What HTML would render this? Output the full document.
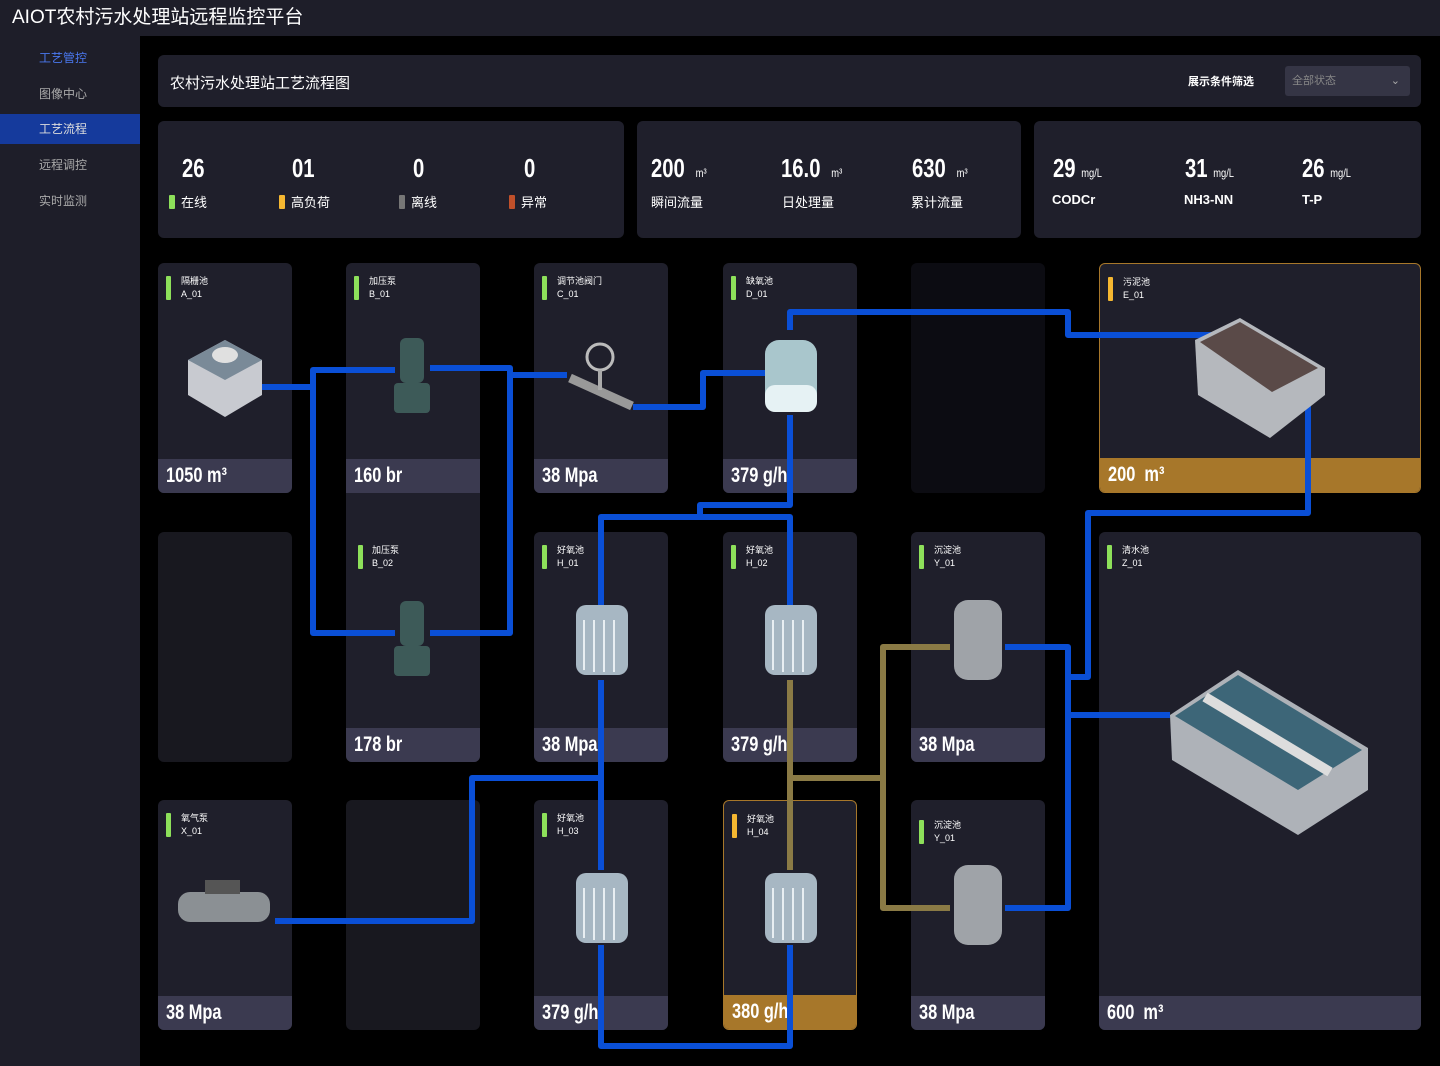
<!DOCTYPE html>
<html><head><meta charset="utf-8"><style>
*{margin:0;padding:0;box-sizing:border-box}
body{width:1440px;height:1066px;background:#000;font-family:"Liberation Sans","Noto Sans CJK SC",sans-serif;color:#fff;position:relative;overflow:hidden}
.hdr{position:absolute;left:0;top:0;width:1440px;height:36px;background:#1e1e29;font-size:19px;line-height:36px;padding-left:12px}
.side{position:absolute;left:0;top:36px;width:140px;height:1030px;background:#1e1e29}
.nav{position:absolute;left:0;width:140px;height:30px;line-height:30px;padding-left:39px;font-size:12px;color:#aaa}
.panel{position:absolute;background:#1f1f2b;border-radius:6px}
.n{font-weight:bold;font-size:26px;position:absolute;transform:scaleX(.78);transform-origin:left;white-space:nowrap}
.u{font-size:12px;font-weight:normal}
.lab{position:absolute;font-size:13px}
.dot{display:inline-block;width:6px;height:14px;border-radius:1px;margin-right:6px;vertical-align:-2px}
.card{position:absolute;background:#1f1f2b;border-radius:6px;overflow:hidden}
.card .ft{position:absolute;left:0;right:0;bottom:0;height:34px;background:#3b3a50;font-weight:bold;font-size:21px;line-height:34px;padding-left:8px}
.card .ft span{display:inline-block;transform:scaleX(.78);transform-origin:left;white-space:nowrap}
.card .tag{position:absolute;left:8px;top:13px;width:5px;height:24px;background:#8de05a;border-radius:1px}
.card .tt{position:absolute;left:23px;top:12px;font-size:9px;line-height:13px}
.gold{border:1px solid #a7772a}
.gold .ft{background:#a7772a}
.gold .tag{background:#f5b731}
</style></head><body>
<div class="hdr">AIOT农村污水处理站远程监控平台</div>
<div class="side">
<div class="nav" style="top:7px;color:#4a78f0">工艺管控</div>
<div class="nav" style="top:43px">图像中心</div>
<div class="nav" style="top:78px;background:#153a9c;color:#ddd">工艺流程</div>
<div class="nav" style="top:114px">远程调控</div>
<div class="nav" style="top:150px">实时监测</div>
</div>
<div class="panel" style="left:158px;top:55px;width:1263px;height:52px">
<div style="position:absolute;left:12px;top:17px;font-size:15px">农村污水处理站工艺流程图</div>
<div style="position:absolute;left:1030px;top:18px;font-size:11px;font-weight:bold">展示条件筛选</div>
<div style="position:absolute;left:1127px;top:11px;width:125px;height:30px;background:#353545;border-radius:3px;font-size:11px;color:#888;line-height:30px;padding-left:7px">全部状态<span style="position:absolute;right:10px;color:#aaa">⌄</span></div>
</div>
<div class="panel" style="left:158px;top:121px;width:466px;height:117px">
<div class="n" style="left:24px;top:32px">26</div><div class="n" style="left:134px;top:32px">01</div><div class="n" style="left:255px;top:32px">0</div><div class="n" style="left:366px;top:32px">0</div>
<div class="lab" style="left:11px;top:71px"><span class="dot" style="background:#8de05a"></span>在线</div>
<div class="lab" style="left:121px;top:71px"><span class="dot" style="background:#f5b731"></span>高负荷</div>
<div class="lab" style="left:241px;top:71px"><span class="dot" style="background:#777"></span>离线</div>
<div class="lab" style="left:351px;top:71px"><span class="dot" style="background:#c0502a"></span>异常</div>
</div>
<div class="panel" style="left:637px;top:121px;width:384px;height:117px">
<div class="n" style="left:14px;top:32px">200 <span class="u">&nbsp;&nbsp;m³</span></div>
<div class="n" style="left:144px;top:32px">16.0 <span class="u">&nbsp;&nbsp;m³</span></div>
<div class="n" style="left:275px;top:32px">630 <span class="u">&nbsp;&nbsp;m³</span></div>
<div class="lab" style="left:14px;top:71px">瞬间流量</div><div class="lab" style="left:145px;top:71px">日处理量</div><div class="lab" style="left:274px;top:71px">累计流量</div>
</div>
<div class="panel" style="left:1034px;top:121px;width:387px;height:117px">
<div class="n" style="left:19px;top:32px">29 <span class="u">mg/L</span></div>
<div class="n" style="left:151px;top:32px">31 <span class="u">mg/L</span></div>
<div class="n" style="left:268px;top:32px">26 <span class="u">mg/L</span></div>
<div class="lab" style="left:18px;top:71px;font-weight:bold">CODCr</div><div class="lab" style="left:150px;top:71px;font-weight:bold">NH3-NN</div><div class="lab" style="left:268px;top:71px;font-weight:bold">T-P</div>
</div>

<div class="card" style="left:158px;top:263px;width:134px;height:230px"><div class="tag"></div><div class="tt">隔栅池<br>A_01</div><div class="ft"><span>1050 m³</span></div></div>
<div class="card" style="left:346px;top:263px;width:134px;height:499px"><div class="tag"></div><div class="tt">加压泵<br>B_01</div><div class="ft" style="bottom:269px"><span>160 br</span></div>
<div class="tag" style="top:282px;left:12px"></div><div class="tt" style="top:281px;left:26px">加压泵<br>B_02</div><div class="ft"><span>178 br</span></div></div>
<div class="card" style="left:534px;top:263px;width:134px;height:230px"><div class="tag"></div><div class="tt">调节池阀门<br>C_01</div><div class="ft"><span>38 Mpa</span></div></div>
<div class="card" style="left:723px;top:263px;width:134px;height:230px"><div class="tag"></div><div class="tt">缺氧池<br>D_01</div><div class="ft"><span>379 g/h</span></div></div>
<div class="card" style="left:911px;top:263px;width:134px;height:230px;background:#0c0c12"></div>
<div class="card gold" style="left:1099px;top:263px;width:322px;height:230px"><div class="tag"></div><div class="tt">污泥池<br>E_01</div><div class="ft"><span>200 &nbsp;m³</span></div></div>

<div class="card" style="left:158px;top:532px;width:134px;height:230px;background:#18181f"></div>
<div class="card" style="left:534px;top:532px;width:134px;height:230px"><div class="tag"></div><div class="tt">好氧池<br>H_01</div><div class="ft"><span>38 Mpa</span></div></div>
<div class="card" style="left:723px;top:532px;width:134px;height:230px"><div class="tag"></div><div class="tt">好氧池<br>H_02</div><div class="ft"><span>379 g/h</span></div></div>
<div class="card" style="left:911px;top:532px;width:134px;height:230px"><div class="tag"></div><div class="tt">沉淀池<br>Y_01</div><div class="ft"><span>38 Mpa</span></div></div>
<div class="card" style="left:1099px;top:532px;width:322px;height:498px"><div class="tag"></div><div class="tt">清水池<br>Z_01</div><div class="ft"><span>600 &nbsp;m³</span></div></div>

<div class="card" style="left:158px;top:800px;width:134px;height:230px"><div class="tag"></div><div class="tt">氧气泵<br>X_01</div><div class="ft"><span>38 Mpa</span></div></div>
<div class="card" style="left:346px;top:800px;width:134px;height:230px;background:#18181f"></div>
<div class="card" style="left:534px;top:800px;width:134px;height:230px"><div class="tag"></div><div class="tt">好氧池<br>H_03</div><div class="ft"><span>379 g/h</span></div></div>
<div class="card gold" style="left:723px;top:800px;width:134px;height:230px"><div class="tag"></div><div class="tt">好氧池<br>H_04</div><div class="ft"><span>380 g/h</span></div></div>
<div class="card" style="left:911px;top:800px;width:134px;height:230px"><div class="tag" style="top:20px"></div><div class="tt" style="top:19px">沉淀池<br>Y_01</div><div class="ft"><span>38 Mpa</span></div></div>

<svg width="1440" height="1066" style="position:absolute;left:0;top:0">
<g fill="none" stroke-width="6" stroke-linejoin="round">
<path stroke="#8a7a45" d="M790 680V870M790 778H883M950 647H883V908H950"/>
<path stroke="#0a4fd6" d="M250 387H313M395 370H313V633H395M430 633H510V368H430M510 375H567M633 407H703V373H768M790 330V312H1068V335H1212M1308 395V513H1088V677H1068M1005 647H1068V908H1005M1068 715H1170M790 415V505H700V517H601V605M700 517H790V605M601 680V870M601 778H472V921H275M601 945V1046H790V945"/>
</g>
<g><polygon points="188,360 225,340 262,360 262,395 225,417 188,395" fill="#c8cad0"/><polygon points="188,360 225,380 262,360 225,340" fill="#7a8a98"/><ellipse cx="225" cy="355" rx="13" ry="8" fill="#e0e0e0"/></g>
<g fill="#3d5a58"><rect x="400" y="338" width="24" height="45" rx="6"/><rect x="394" y="383" width="36" height="30" rx="4"/><rect x="400" y="601" width="24" height="45" rx="6"/><rect x="394" y="646" width="36" height="30" rx="4"/></g>
<g><line x1="570" y1="378" x2="632" y2="406" stroke="#999" stroke-width="9"/><circle cx="600" cy="357" r="13" fill="none" stroke="#bbb" stroke-width="3"/><line x1="600" y1="370" x2="600" y2="390" stroke="#aaa" stroke-width="4"/></g>
<rect x="765" y="340" width="52" height="72" rx="14" fill="#a9c6cc"/><rect x="765" y="385" width="52" height="27" rx="10" fill="#e6f2f4"/>
<g fill="#a7b7c3"><rect x="576" y="605" width="52" height="70" rx="10"/><rect x="765" y="605" width="52" height="70" rx="10"/><rect x="576" y="873" width="52" height="70" rx="10"/><rect x="765" y="873" width="52" height="70" rx="10"/></g>
<g stroke="#e8eef2" stroke-width="2"><path d="M584 620V670M594 620V672M604 620V672M614 620V672M773 620V670M783 620V672M793 620V672M803 620V672M584 888V938M594 888V940M604 888V940M614 888V940M773 888V938M783 888V940M793 888V940M803 888V940"/></g>
<g fill="#9fa3a8"><rect x="954" y="600" width="48" height="80" rx="14"/><rect x="954" y="865" width="48" height="80" rx="14"/></g>
<g fill="#8b9094"><rect x="178" y="892" width="92" height="30" rx="12"/><rect x="205" y="880" width="35" height="14" fill="#555"/></g>
<polygon points="1195,340 1240,318 1325,368 1325,395 1270,438 1198,395" fill="#b5b8bd"/><polygon points="1200,342 1240,322 1318,368 1272,392" fill="#5a4a48"/>
<polygon points="1170,715 1238,670 1368,748 1368,790 1298,835 1172,760" fill="#aeb2b8"/><polygon points="1175,716 1238,675 1362,750 1298,790" fill="#3d6678"/><path d="M1205 697L1330 772" stroke="#ddd" stroke-width="10"/>
</svg>
</body></html>
